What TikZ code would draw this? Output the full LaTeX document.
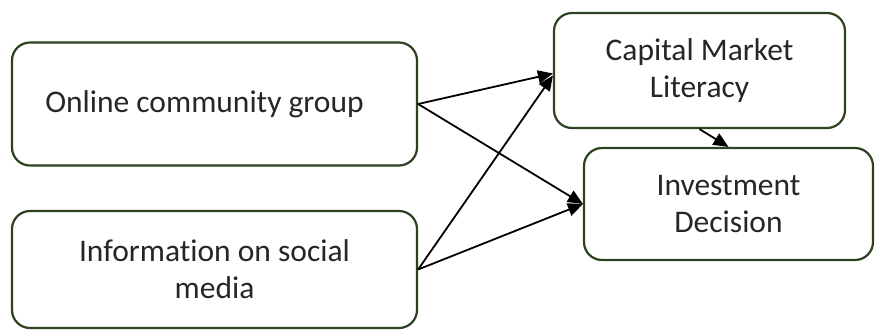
\documentclass[tikz,border=0pt]{standalone}
\usepackage{fontspec}
\setmainfont{Carlito}[Ligatures=NoCommon]
\usetikzlibrary{arrows.meta,calc}
\definecolor{boxline}{HTML}{2C4220}
\definecolor{txt}{HTML}{262626}
\tikzset{
  box/.style={draw=boxline, line width=2.2pt, rounded corners=18pt, fill=white,
    inner sep=0pt, align=center, text=txt,
    font=\fontsize{31.5}{37}\selectfont},
  link/.style={-{Triangle[length=15pt,width=13pt]}, line width=1.8pt, black}
}
\begin{document}
\begin{tikzpicture}[x=1pt,y=-1pt]
\useasboundingbox (0,0) rectangle (875,330);
\node[box, minimum width=405pt, minimum height=123pt] (A) at (214.5,104) {Online community group\hspace*{20pt}};
\node[box, minimum width=405pt, minimum height=117pt] (B) at (214.5,269.5) {Information on social\\media};
\node[box, minimum width=291pt, minimum height=115pt] (C) at (699.5,70.5) {Capital Market\\Literacy};
\node[box, minimum width=289pt, minimum height=112pt] (D) at (728.5,204) {Investment\\Decision};
\draw[link] (A.east) -- ($(C.west)+(0,3)$);
\draw[link] (A.east) -- (D.west);
\draw[link] (B.east) -- ($(C.west)+(0,5)$);
\draw[link] (B.east) -- (D.west);
\draw[link] (C.south) -- (D.north);
\end{tikzpicture}
\end{document}
